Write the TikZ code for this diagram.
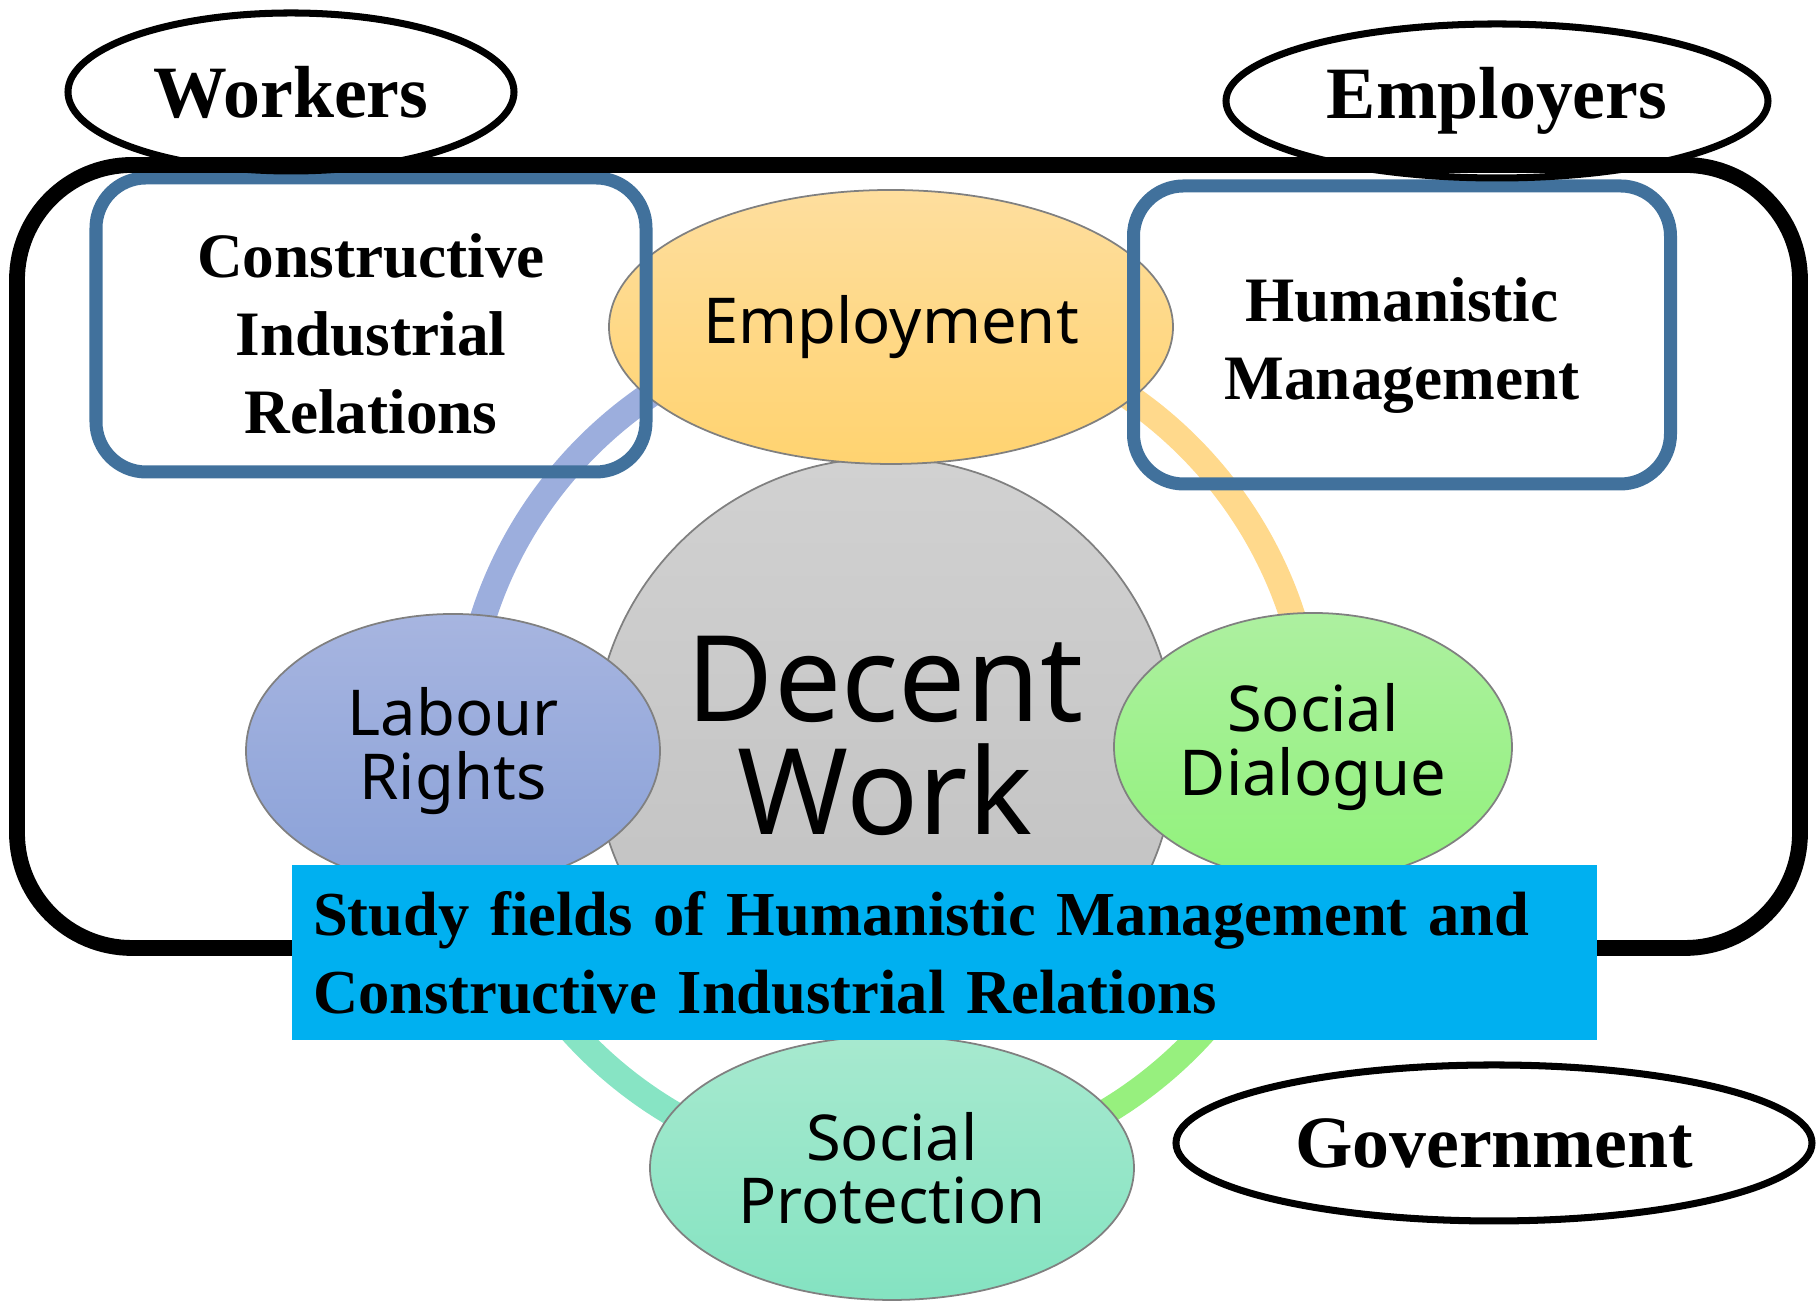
\documentclass[tikz,border=0pt]{standalone}
\usepackage{fontspec}
\setmainfont{Liberation Serif}
\newfontfamily\pillarfont{Noto Sans}
\usetikzlibrary{shapes.geometric}

\definecolor{frameblue}{HTML}{41719C}
\definecolor{captionblue}{HTML}{00B0F0}
\definecolor{ringblue}{HTML}{9CAEDD}
\definecolor{ringorange}{HTML}{FFD98C}
\definecolor{ringgreen}{HTML}{97F07E}
\definecolor{ringteal}{HTML}{87E4C4}

\tikzset{
  party/.style={draw, ellipse, line width=2pt, inner sep=0pt, font=\bfseries\fontsize{21}{25}\selectfont},
  field/.style={draw=frameblue, line width=3.7pt, rounded corners=0.5cm, inner sep=0pt},
  fieldtext/.style={align=center, inner sep=0pt, font=\bfseries\fontsize{18}{22.2}\selectfont},
  pillar/.style={ellipse, draw=gray, line width=0.5pt, inner sep=0pt, align=center, font=\pillarfont\fontsize{18}{18}\selectfont},
  ring/.style={draw=#1, line width=0.26cm},
}

\begin{document}
\begin{tikzpicture}
  \useasboundingbox (0,0) rectangle (18.2,13.03);
  \coordinate (hub) at (8.88,5.56);

  % coloured ring behind the four pillars
  \foreach \a/\c in {0/ringorange, 90/ringblue, 180/ringteal, 270/ringgreen}
    \draw[ring=\c] (hub) ++(\a:4.25) arc[start angle=\a, delta angle=90, radius=4.25];

  \node[pillar, minimum width=5.82cm, minimum height=5.82cm, top color=black!18, bottom color=black!25] (decent) at (8.85,5.54) {};
  \node[align=center, inner sep=0pt, font=\pillarfont\fontsize{34}{32}\selectfont] (decenttext) at (8.85,5.67) {Decent\\Work};

  \node[pillar, minimum width=5.64cm, minimum height=2.74cm, top color={rgb,255:red,254;green,222;blue,158},
    bottom color={rgb,255:red,255;green,211;blue,112}] (employment) at (8.91,9.76) {Employment};
  \node[pillar, minimum width=4.14cm, minimum height=2.74cm, top color={rgb,255:red,167;green,181;blue,224},
    bottom color={rgb,255:red,138;green,161;blue,216}] (labour) at (4.53,5.52) {Labour\\Rights};
  \node[pillar, minimum width=3.98cm, minimum height=2.68cm, top color={rgb,255:red,173;green,240;blue,160},
    bottom color={rgb,255:red,145;green,242;blue,123}] (dialogue) at (13.13,5.56) {Social\\Dialogue};
  \node[pillar, minimum width=4.84cm, minimum height=2.64cm, top color={rgb,255:red,167;green,233;blue,207},
    bottom color={rgb,255:red,132;green,227;blue,193}] (protection) at (8.92,1.35) {Social\\Protection};

  \node[field, minimum width=5.50cm, minimum height=2.94cm] (cir) at (3.71,9.78) {};
  \node[fieldtext] (cirtext) at (3.71,9.69) {Constructive\\Industrial\\Relations};
  \node[field, minimum width=5.37cm, minimum height=2.98cm] (hm) at (14.02,9.68) {};
  \node[fieldtext] (hmtext) at (14.02,9.57) {Humanistic\\Management};

  \node[draw, line width=4.5pt, rounded corners=1.15cm, minimum width=17.83cm, minimum height=7.83cm] (tripartite) at (9.085,7.465) {};

  \node[party, minimum width=4.46cm, minimum height=1.58cm] (workers) at (2.91,12.11) {Workers};
  \node[party, minimum width=5.42cm, minimum height=1.54cm] (employers) at (14.97,12.02) {Employers};
  \node[party, minimum width=6.36cm, minimum height=1.56cm] (government) at (14.94,1.60) {Government};

  \node[fill=captionblue, minimum width=13.05cm, minimum height=1.75cm, text width=12.63cm, inner sep=0pt,
    align=left, font=\bfseries\fontsize{17.8}{22.2}\selectfont] (caption) at (9.445,3.505)
    {Study fields of Humanistic Management and\\Constructive Industrial Relations};
\end{tikzpicture}
\end{document}
